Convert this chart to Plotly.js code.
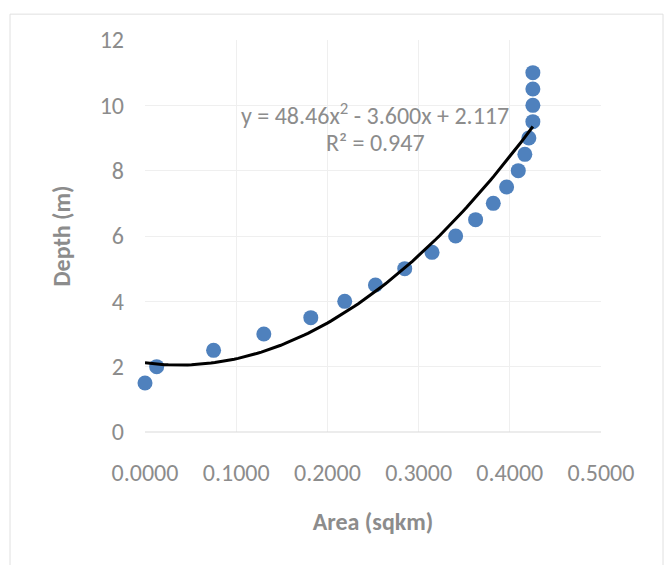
<!DOCTYPE html>
<html><head><meta charset="utf-8">
<script src="https://cdn.plot.ly/plotly-3.0.1.min.js"></script>
<style>html,body{margin:0;padding:0;background:#fff;}</style>
</head><body>
<div id="chart" style="width:670px;height:565px;"></div>
<script>
const area = [0.0000, 0.0128, 0.0752, 0.1303, 0.1818, 0.2190, 0.2527, 0.2848, 0.3147, 0.3406, 0.3625, 0.3819, 0.3965, 0.4093, 0.4165, 0.4209, 0.4253, 0.4253, 0.4253, 0.4253];
const depth = [1.5, 2.0, 2.5, 3.0, 3.5, 4.0, 4.5, 5.0, 5.5, 6.0, 6.5, 7.0, 7.5, 8.0, 8.5, 9.0, 9.5, 10.0, 10.5, 11.0];
const coefA = 48.46, coefB = -3.600, coefC = 2.117;
const xTicks = [0, 0.1, 0.2, 0.3, 0.4, 0.5];
const xTickLabels = ['0.0000', '0.1000', '0.2000', '0.3000', '0.4000', '0.5000'];
const yTicks = [0, 2, 4, 6, 8, 10, 12];

const xMin = Math.min(...area), xMax = Math.max(...area);
const fitX = [], fitY = [];
for (let i = 0; i <= 100; i++) {
  const x = xMin + (xMax - xMin) * i / 100;
  fitX.push(x);
  fitY.push(coefA * x * x + coefB * x + coefC);
}

const font = "Carlito, Calibri, 'Liberation Sans Narrow', Lato, sans-serif";
const gray = '#8c8c8c';

const traces = [
  {x: area, y: depth, type: 'scatter', mode: 'markers', cliponaxis: false,
   marker: {color: '#4f81bd', size: 15}, hoverinfo: 'skip'},
  {x: fitX, y: fitY, type: 'scatter', mode: 'lines', cliponaxis: false,
   line: {color: '#000000', width: 3}, hoverinfo: 'skip'}
];

const layout = {
  width: 670, height: 565,
  margin: {l: 145, r: 69, t: 40, b: 133},
  paper_bgcolor: '#ffffff', plot_bgcolor: '#ffffff',
  showlegend: false,
  font: {family: font, color: gray, size: 24},
  xaxis: {
    range: [0, 0.5], tickvals: xTicks, ticktext: xTickLabels,
    showgrid: true, gridcolor: '#efefef', gridwidth: 1,
    zeroline: false, showline: false, ticks: '',
    tickfont: {family: font, size: 24, color: gray},
    ticklabelstandoff: 24,
    title: {text: 'Area (sqkm)', font: {family: font, size: 24, color: gray, weight: 'bold'}, standoff: 27}
  },
  yaxis: {
    range: [0, 12], tickvals: yTicks,
    showgrid: true, gridcolor: '#efefef', gridwidth: 1,
    zeroline: false, showline: false, ticks: '',
    tickfont: {family: font, size: 24, color: gray},
    ticklabelstandoff: 20,
    title: {text: 'Depth (m)', font: {family: font, size: 24, color: gray, weight: 'bold'}, standoff: 22}
  },
  shapes: [
    {type: 'line', xref: 'paper', yref: 'paper', x0: 0, x1: 1, y0: 0, y1: 0, line: {color: '#d9d9d9', width: 1}},
    {type: 'rect', xref: 'paper', yref: 'paper', x0: -0.296, x1: 1.136, y0: -0.36, y1: 1.066, line: {color: '#e0e0e0', width: 1}, layer: 'below'}
  ],
  annotations: [
    {xref: 'paper', yref: 'paper', x: (375 - 145) / 456, y: (432 - 114) / 392, xanchor: 'center', yanchor: 'middle',
     text: 'y = 48.46x<sup>2</sup> - 3.600x + 2.117', showarrow: false, font: {family: font, size: 24, color: gray}},
    {xref: 'paper', yref: 'paper', x: (375 - 145) / 456, y: (432 - 142) / 392, xanchor: 'center', yanchor: 'middle',
     text: 'R² = 0.947', showarrow: false, font: {family: font, size: 24, color: gray}}
  ]
};

Plotly.newPlot('chart', traces, layout, {staticPlot: true, displayModeBar: false});
</script>
</body></html>
